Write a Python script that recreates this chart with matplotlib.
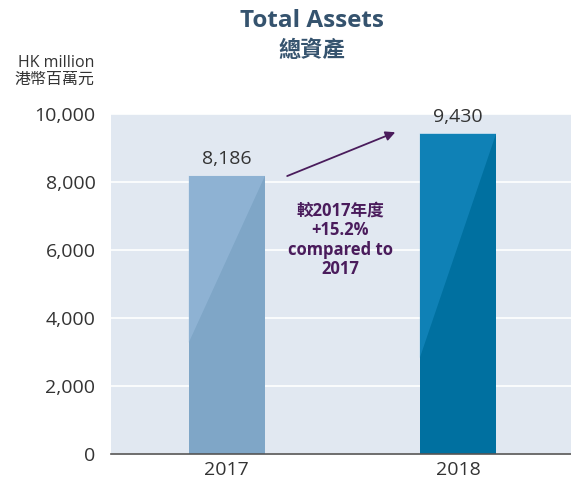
import matplotlib
matplotlib.use("Agg")
import matplotlib.pyplot as plt
from matplotlib.patches import Polygon

# Data
years = ["2017", "2018"]
assets = [8186, 9430]
value_labels = ["8,186", "9,430"]
yticks = [0, 2000, 4000, 6000, 8000, 10000]
ytick_labels = ["0", "2,000", "4,000", "6,000", "8,000", "10,000"]

bar_colors = ["#7fa6c7", "#0070a0"]
highlight_colors = ["#9dbfe0", "#1f93cc"]
purple = "#4a1c5c"
title_color = "#35536e"
text_color = "#333333"

plt.rcParams["font.family"] = ["Open Sans", "Noto Sans CJK TC", "DejaVu Sans"]

fig = plt.figure(figsize=(5.71, 4.84), dpi=100)
ax = fig.add_axes([0.194, 0.062, 0.806, 0.702])
ax.set_facecolor("#e1e8f1")

x = list(range(len(years)))
bars = ax.bar(x, assets, width=0.33, color=bar_colors, zorder=2)

# lighter diagonal highlight in the upper part of each bar
for b, hc, low in zip(bars, highlight_colors, [0.4, 0.3]):
    x0, w, h = b.get_x(), b.get_width(), b.get_height()
    tri = Polygon([(x0, h), (x0 + w, h), (x0, h * low)], closed=True,
                  facecolor=hc, edgecolor="none", alpha=0.5, zorder=3)
    ax.add_patch(tri)

for xi, v, lab in zip(x, assets, value_labels):
    ax.text(xi, v + 230, lab, ha="center", va="bottom", fontsize=14,
            color=text_color)

ax.set_xlim(-0.502, 1.489)
ax.set_ylim(0, 10000)
ax.set_yticks(yticks)
ax.set_yticklabels(ytick_labels)
ax.set_xticks(x)
ax.set_xticklabels(years)
ax.tick_params(axis="both", length=0, labelsize=14, labelcolor=text_color)
ax.tick_params(axis="y", pad=11)
ax.tick_params(axis="x", pad=5)
ax.yaxis.grid(True, color="white", linewidth=1.2, zorder=1)
ax.set_axisbelow(True)
for s in ["top", "right", "left"]:
    ax.spines[s].set_visible(False)
ax.spines["bottom"].set_color("#555555")
ax.spines["bottom"].set_linewidth(1.2)

# growth arrow and note
ax.annotate("", xy=(0.74, 9500), xytext=(0.25, 8150),
            arrowprops=dict(arrowstyle="-|>", color=purple, lw=1.3,
                            mutation_scale=14), zorder=4)
ax.text(0.49, 6300, "較2017年度\n+15.2%\ncompared to\n2017", ha="center",
        va="center", fontsize=12, fontweight="bold", color=purple,
        linespacing=1.1, zorder=4)

# titles
fig.text(0.546, 0.957, "Total Assets", ha="center", va="center",
         fontsize=17.5, fontweight="bold", color=title_color)
fig.text(0.546, 0.893, "總資產", ha="center", va="center",
         fontsize=16, fontweight="bold", color=title_color)
fig.text(0.165, 0.853, "HK million\n港幣百萬元", ha="right", va="center",
         fontsize=11.5, color=text_color, linespacing=1.05)

fig.savefig("out.png", dpi=100)
